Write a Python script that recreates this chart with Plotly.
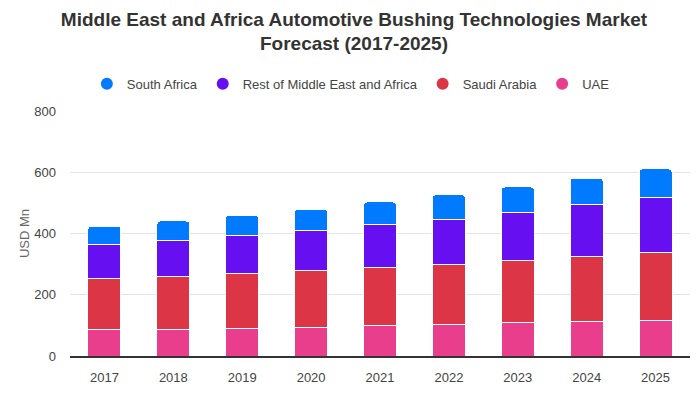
import plotly.graph_objects as go

years = ["2017", "2018", "2019", "2020", "2021", "2022", "2023", "2024", "2025"]
uae = [87, 87, 90, 94, 100, 103, 108, 113, 117]
saudi_arabia = [167, 173, 180, 186, 190, 196, 204, 212, 221]
rest_mea = [111, 118, 124, 130, 140, 147, 157, 170, 180]
south_africa = [59, 63, 66, 70, 73, 81, 83, 86, 93]

series = [
    ("UAE", uae, "#e83e8c"),
    ("Saudi Arabia", saudi_arabia, "#dc3545"),
    ("Rest of Middle East and Africa", rest_mea, "#6610f2"),
    ("South Africa", south_africa, "#007bff"),
]

fig = go.Figure()
for name, vals, col in series:
    fig.add_trace(go.Bar(
        x=years, y=vals, name=name, showlegend=False,
        marker=dict(color=col, line=dict(color="white", width=1)),
        hovertemplate="%{x}: %{y}<extra>" + name + "</extra>",
    ))

# legend entries with circular symbols
for name, vals, col in reversed(series):
    fig.add_trace(go.Scatter(
        x=[None], y=[None], mode="markers", name=name,
        marker=dict(color=col, size=12, symbol="circle"),
        showlegend=True,
    ))

# the page body has an 8px default margin, so the figure is sized to fit the window
fig.update_layout(
    width=692, height=392,
    barmode="stack", bargap=0.52, barcornerradius=4,
    plot_bgcolor="white", paper_bgcolor="white",
    font=dict(family="Liberation Sans, Arial, sans-serif", size=13, color="#444"),
    title=dict(
        text="<b>Middle East and Africa Automotive Bushing Technologies Market<br>Forecast (2017-2025)</b>",
        x=0.5, xanchor="center", xref="container",
        yref="container", y=0.955, yanchor="middle",
        font=dict(size=19, color="#333"),
    ),
    legend=dict(
        orientation="h", x=0.453, xanchor="center",
        y=1.05, yanchor="bottom",
        traceorder="normal", font=dict(size=13, color="#444"),
        itemclick=False, itemwidth=30,
    ),
    margin=dict(l=62, r=10, t=103, b=44),
    xaxis=dict(
        showline=True, linecolor="#333", linewidth=2, ticks="",
        tickfont=dict(size=13, color="#444"), showgrid=False,
        ticklabelstandoff=8,
    ),
    yaxis=dict(
        range=[0, 800], dtick=200, showgrid=True, gridcolor="#e5e5e5",
        zeroline=False, tickfont=dict(size=13, color="#444"),
        ticklabelstandoff=13,
        title=dict(text="USD Mn", font=dict(size=13, color="#666"), standoff=1),
    ),
)

fig.write_html("out.html")
